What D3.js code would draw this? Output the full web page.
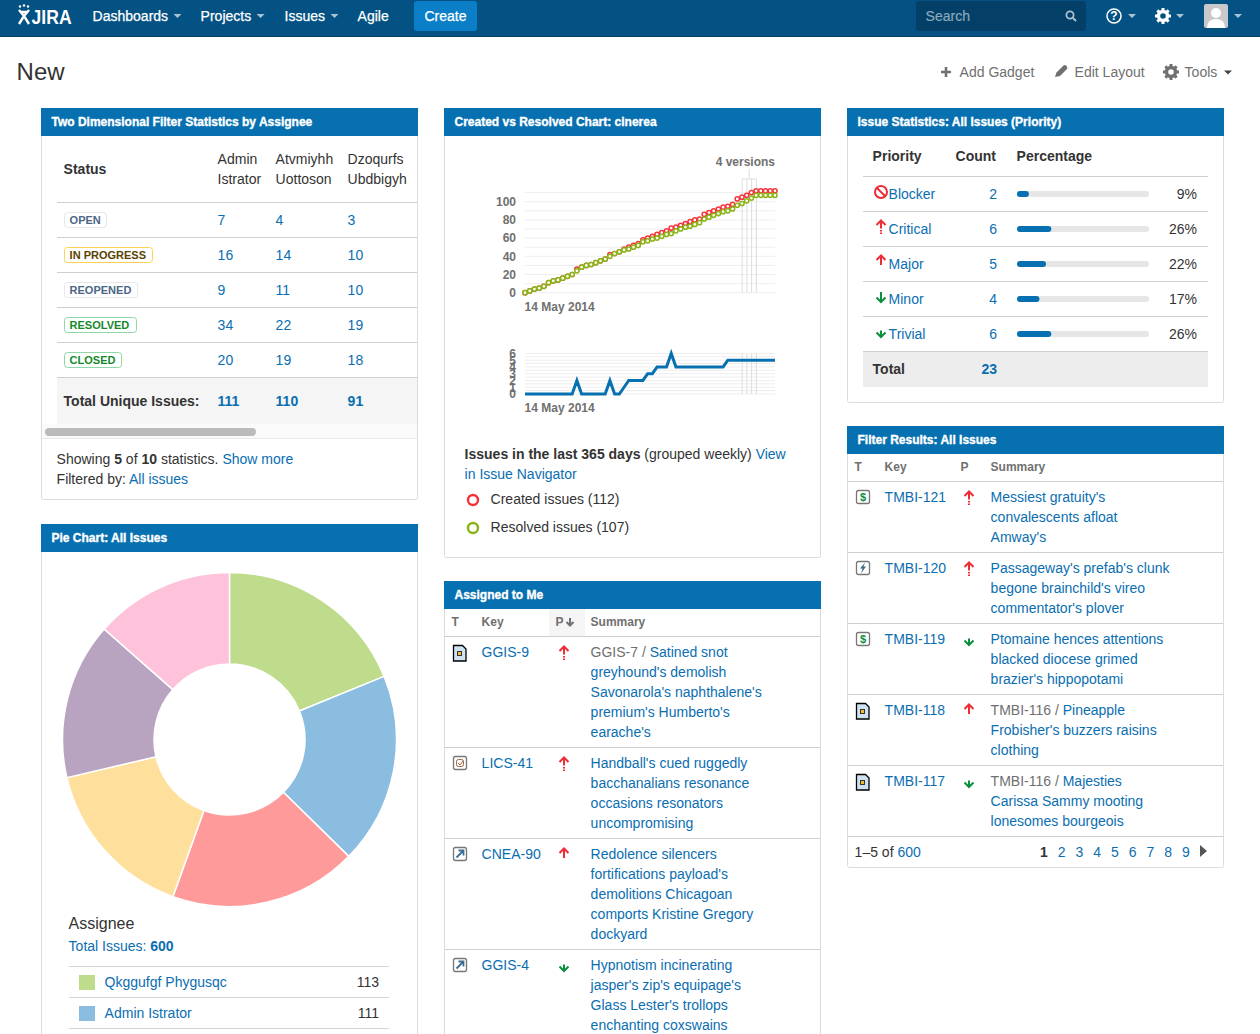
<!DOCTYPE html>
<html>
<head>
<meta charset="utf-8">
<script src="https://cdn.jsdelivr.net/npm/d3@7"></script>
<style>
  html, body { margin: 0; padding: 0; background: #fff; overflow: hidden; }
  svg { display: block; }
  text { font-family: "Liberation Sans", Arial, sans-serif; font-size: 14px; fill: #333; }
</style>
</head>
<body>
<div id="page"></div>
<script>
// Chart values
const resolvedIssues = [0,2,4,5,7,11,13,14,16,18,20,24,28,30,31,33,35,37,40,43,45,47,48,50,52,56,57,59,60,62,64,65,68,70,72,73,75,77,81,83,85,87,89,90,92,96,98,101,104,107,107,107,107,107];
const createdIssues  = [0,2,4,5,7,11,13,14,16,18,20,26,28,30,31,33,35,37,42,43,45,48,50,52,54,58,60,62,64,66,68,71,72,74,76,78,80,81,86,88,90,92,94,95,97,103,105,107,110,112,112,112,112,112];
const unresolvedTrend = [0,0,0,0,0,0,0,0,0,0,0,2,0,0,0,0,0,0,2,0,0,1,2,2,2,2,3,3,4,4,4,6,4,4,4,4,4,4,4,4,4,4,4,5,5,5,5,5,5,5,5,5,5,5];
const versionIndexes = [46, 47, 48, 49];
const trendTicks = [0, 20, 40, 60, 80, 100];
const diffTicks = [0, 1, 2, 3, 4, 5, 6];

const statuses = ["OPEN", "IN PROGRESS", "REOPENED", "RESOLVED", "CLOSED"];
const statusWidths = [42, 88, 73, 72, 57];
const statusStyles = ["grey", "yellow", "grey", "green", "green"];
const assigneeNames = [["Admin", "Istrator"], ["Atvmiyhh", "Uottoson"], ["Dzoqurfs", "Ubdbigyh"]];
const adminCounts = [7, 16, 9, 34, 20];
const atvmiyhhCounts = [4, 14, 11, 22, 19];
const dzoqurfsCounts = [3, 10, 10, 19, 18];
const uniqueTotals = [111, 110, 91];

const pieNames = ["Qkggufgf Phygusqc", "Admin Istrator", "Third", "Fourth", "Fifth", "Sixth"];
const pieValues = [113, 111, 109, 95, 91, 81];
const pieColors = ["#bedc8b", "#8bbde0", "#ff9a9a", "#ffdf9c", "#b8a4c1", "#ffc2db"];

const priorities = ["Blocker", "Critical", "Major", "Minor", "Trivial"];
const priorityCounts = [2, 6, 5, 4, 6];
const priorityPercents = [9, 26, 22, 17, 26];

const assignedIssues = [
  { key: "GGIS-9", type: "doc", pri: "Critical", parent: "GGIS-7", lines: ["Satined snot", "greyhound's demolish", "Savonarola's naphthalene's", "premium's Humberto's", "earache's"] },
  { key: "LICS-41", type: "check", pri: "Critical", lines: ["Handball's cued ruggedly", "bacchanalians resonance", "occasions resonators", "uncompromising"] },
  { key: "CNEA-90", type: "link", pri: "Major", lines: ["Redolence silencers", "fortifications payload's", "demolitions Chicagoan", "comports Kristine Gregory", "dockyard"] },
  { key: "GGIS-4", type: "link", pri: "Trivial", lines: ["Hypnotism incinerating", "jasper's zip's equipage's", "Glass Lester's trollops", "enchanting coxswains"] }
];
const filterIssues = [
  { key: "TMBI-121", type: "dollar", pri: "Critical", lines: ["Messiest gratuity's", "convalescents afloat", "Amway's"] },
  { key: "TMBI-120", type: "bolt", pri: "Critical", lines: ["Passageway's prefab's clunk", "begone brainchild's vireo", "commentator's plover"] },
  { key: "TMBI-119", type: "dollar", pri: "Trivial", lines: ["Ptomaine hences attentions", "blacked diocese grimed", "brazier's hippopotami"] },
  { key: "TMBI-118", type: "doc", pri: "Major", parent: "TMBI-116", lines: ["Pineapple", "Frobisher's buzzers raisins", "clothing"] },
  { key: "TMBI-117", type: "doc", pri: "Trivial", parent: "TMBI-116", lines: ["Majesties", "Carissa Sammy mooting", "lonesomes bourgeois"] }
];
const pageNumbers = [1, 2, 3, 4, 5, 6, 7, 8, 9];

const navItems = [["Dashboards", 93, true], ["Projects", 201, true], ["Issues", 285, true], ["Agile", 358, false]];
const panels = [
  ["Two Dimensional Filter Statistics by Assignee", 41, 108, 377, 392],
  ["Created vs Resolved Chart: cinerea", 444, 108, 377, 450],
  ["Issue Statistics: All Issues (Priority)", 847, 108, 377, 295],
  ["Pie Chart: All Issues", 41, 524, 377, 540],
  ["Assigned to Me", 444, 581, 377, 480],
  ["Filter Results: All Issues", 847, 426, 377, 442]
];

const BLUE = "#0670b0", LINK = "#0a6eb1", RULE = "#cfcfcf", GREY = "#707070";

const svg = d3.select("#page").append("svg").attr("width", 1260).attr("height", 1034);

const label = (g, x, y, str, opts = {}) => g.append("text")
  .attr("x", opts.anchor ? x : x - 0.4).attr("y", y).attr("dy", "0.35em")
  .attr("text-anchor", opts.anchor || "start")
  .style("font-size", (opts.size || 14) + "px")
  .style("font-weight", opts.bold ? "bold" : "normal")
  .style("fill", opts.color || "#333")
  .text(str);

const rule = (g, x1, x2, y, color = RULE) => g.append("line")
  .attr("x1", x1).attr("x2", x2).attr("y1", y + 0.5).attr("y2", y + 0.5)
  .attr("stroke", color);

const caret = (g, x, y, color) => g.append("path")
  .attr("d", `M${x},${y} l8,0 l-4,4 z`).attr("fill", color);

const gear = (g, cx, cy, color) => {
  g.append("circle").attr("cx", cx).attr("cy", cy).attr("r", 4.5)
    .attr("fill", "none").attr("stroke", color).attr("stroke-width", 3.4);
  g.selectAll(null).data(d3.range(8)).join("rect")
    .attr("x", cx - 1.5).attr("y", cy - 8).attr("width", 3).attr("height", 3)
    .attr("fill", color)
    .attr("transform", d => `rotate(${d * 45} ${cx} ${cy})`);
};

// Top bar
const drawHeader = () => {
  const g = svg.append("g");
  g.append("rect").attr("width", 1260).attr("height", 37).attr("fill", "#035283");
  rule(g, 0, 1260, 36, "#033d61");
  // logo
  g.append("path").attr("d", "M19,10 L24,16 L19,24 M29,10 L24,16 L29,24 M21,12 L27,12")
    .attr("fill", "none").attr("stroke", "#fff").attr("stroke-width", 2.4);
  g.selectAll(null).data([20, 24, 28]).join("circle")
    .attr("cx", d => d).attr("cy", d => d === 24 ? 5.5 : 6.5).attr("r", 1.2).attr("fill", "#fff");
  label(g, 32, 16.5, "JIRA", { size: 20, bold: true, color: "#fff" })
    .attr("textLength", 40).attr("lengthAdjust", "spacingAndGlyphs");

  navItems.forEach(([name, x, hasCaret]) => {
    const t = label(g, x, 16, name, { color: "#fff" }).style("stroke", "#fff").style("stroke-width", 0.25);
    if (hasCaret) caret(g, x + t.node().getComputedTextLength() + 5, 14, "#a9c3d4");
  });

  g.append("rect").attr("x", 414).attr("y", 1).attr("width", 63).attr("height", 30).attr("rx", 3).attr("fill", "#0a7fc7");
  label(g, 445.5, 16, "Create", { anchor: "middle", color: "#fff" }).style("stroke", "#fff").style("stroke-width", 0.25);

  g.append("rect").attr("x", 916).attr("y", 1).attr("width", 170).attr("height", 30).attr("rx", 3).attr("fill", "#033f66");
  label(g, 926, 16, "Search", { color: "#88aabf" }).style("stroke", "#88aabf").style("stroke-width", 0.2);
  g.append("circle").attr("cx", 1070).attr("cy", 15).attr("r", 3.6).attr("fill", "none").attr("stroke", "#a9c3d4").attr("stroke-width", 1.8);
  g.append("line").attr("x1", 1073).attr("y1", 18).attr("x2", 1076).attr("y2", 21).attr("stroke", "#a9c3d4").attr("stroke-width", 2);

  g.append("circle").attr("cx", 1114).attr("cy", 16).attr("r", 7).attr("fill", "none").attr("stroke", "#fff").attr("stroke-width", 1.5);
  label(g, 1114, 16, "?", { anchor: "middle", size: 12, bold: true, color: "#fff" });
  caret(g, 1128, 14, "#a9c3d4");
  gear(g, 1163, 16, "#fff");
  caret(g, 1176, 14, "#a9c3d4");
  g.append("rect").attr("x", 1204).attr("y", 4).attr("width", 24).attr("height", 24).attr("rx", 2).attr("fill", "#c9c9c9");
  g.append("circle").attr("cx", 1216).attr("cy", 13).attr("r", 5).attr("fill", "#fff");
  g.append("path").attr("d", "M1207,28 Q1207,19 1216,19 Q1225,19 1225,28 Z").attr("fill", "#fff");
  caret(g, 1234, 14, "#a9c3d4");

  label(svg, 17, 72, "New", { size: 24 });

  const tools = svg.append("g");
  tools.append("path").attr("d", "M941,72 h10 M946,67 v10").attr("stroke", "#707070").attr("stroke-width", 2.6);
  label(tools, 960, 72, "Add Gadget", { color: GREY });
  tools.append("path").attr("d", "M1055,77 l1.5,-4.5 l7,-7 q1.5,-1 3,0.5 q1.5,1.5 0.5,3 l-7,7 z").attr("fill", "#707070");
  label(tools, 1075, 72, "Edit Layout", { color: GREY });
  gear(tools, 1171, 72, "#707070");
  label(tools, 1185, 72, "Tools", { color: GREY });
  caret(tools, 1224, 70.5, "#444");
};

const drawPanels = () => {
  const g = svg.selectAll("g.panel").data(panels).join("g").attr("class", "panel");
  g.append("rect").attr("x", d => d[1] + 0.5).attr("y", d => d[2] + 0.5)
    .attr("width", d => d[3] - 1).attr("height", d => d[4] - 1)
    .attr("rx", 2).attr("fill", "#fff").attr("stroke", "#dcdcdc");
  g.append("rect").attr("x", d => d[1]).attr("y", d => d[2])
    .attr("width", d => d[3]).attr("height", 28).attr("fill", BLUE);
  g.append("text").attr("x", d => d[1] + 10.5).attr("y", d => d[2] + 14).attr("dy", "0.35em")
    .style("font-size", "12px").style("font-weight", "bold").style("fill", "#fff")
    .style("stroke", "#fff").style("stroke-width", 0.35)
    .text(d => d[0]);
};

// Two dimensional filter table
const drawFilterStats = () => {
  const g = svg.append("g");
  const y = d3.scalePoint().domain(statuses).range([220, 360]);
  const cols = [218, 276, 348];
  const series = [adminCounts, atvmiyhhCounts, dzoqurfsCounts];
  const loz = {
    grey: ["#e4e8ed", "#4a6785"],
    yellow: ["#ffd351", "#594300"],
    green: ["#8ed8a8", "#14892c"]
  };

  label(g, 64, 169, "Status", { bold: true });
  assigneeNames.forEach((lines, i) => {
    label(g, cols[i], 159, lines[0]);
    label(g, cols[i], 179, lines[1]);
  });
  rule(g, 57, 417, 202);

  statuses.forEach((s, i) => {
    const cy = y(s);
    rule(g, 57, 417, cy + 17);
    const [border, color] = loz[statusStyles[i]];
    g.append("rect").attr("x", 64.5).attr("y", cy - 7.5).attr("width", statusWidths[i]).attr("height", 15)
      .attr("rx", 3).attr("fill", "#fff").attr("stroke", border);
    label(g, 70, cy, s, { size: 11, bold: true, color });
    series.forEach((vals, c) => label(g, cols[c], cy, vals[i], { color: LINK }));
  });

  g.append("rect").attr("x", 57).attr("y", 378).attr("width", 360).attr("height", 46).attr("fill", "#f5f5f5");
  label(g, 64, 401, "Total Unique Issues:", { bold: true });
  uniqueTotals.forEach((v, c) => label(g, cols[c], 401, v, { bold: true, color: LINK }));

  g.append("rect").attr("x", 42).attr("y", 424).attr("width", 375).attr("height", 14).attr("fill", "#fafafa");
  rule(g, 42, 417, 438, "#eaeaea");
  g.append("rect").attr("x", 45).attr("y", 428).attr("width", 211).attr("height", 8).attr("rx", 4).attr("fill", "#bbb");

  const line1 = g.append("text").attr("x", 56.6).attr("y", 459).attr("dy", "0.35em");
  line1.append("tspan").style("fill", "#333").text("Showing ");
  line1.append("tspan").style("fill", "#333").style("font-weight", "bold").text("5");
  line1.append("tspan").style("fill", "#333").text(" of ");
  line1.append("tspan").style("fill", "#333").style("font-weight", "bold").text("10");
  line1.append("tspan").style("fill", "#333").text(" statistics. ");
  line1.append("tspan").style("fill", LINK).text("Show more");
  const line2 = g.append("text").attr("x", 56.6).attr("y", 479).attr("dy", "0.35em");
  line2.append("tspan").style("fill", "#333").text("Filtered by: ");
  line2.append("tspan").style("fill", LINK).text("All issues");
};

// Created vs resolved charts
const drawCreatedResolved = () => {
  const g = svg.append("g");
  const x = d3.scaleLinear().domain([0, resolvedIssues.length - 1]).range([525, 775]);
  const y = d3.scaleLinear().domain([0, 100]).range([292.7, 201.7]);
  const y2 = d3.scaleLinear().domain([0, 6]).range([394, 353.4]);

  const grid = (scale, values) => g.append("g").selectAll("line").data(values).join("line")
    .attr("x1", 525).attr("x2", 775)
    .attr("y1", d => scale(d)).attr("y2", d => scale(d))
    .attr("stroke", "#eeeeee");
  grid(y, d3.range(0, 111, 10));
  grid(y2, d3.range(0, 6.1, 0.5));

  const axis = (scale, ticks) => {
    const a = g.append("g").attr("transform", "translate(516,0)")
      .call(d3.axisLeft(scale).tickValues(ticks).tickSize(0).tickPadding(0).tickFormat(d3.format("d")));
    a.select(".domain").remove();
    a.selectAll("text").style("font-size", "12px").style("font-weight", "bold").style("fill", GREY);
  };
  axis(y, trendTicks);
  axis(y2, diffTicks);

  label(g, 525, 307, "14 May 2014", { size: 12, bold: true, color: GREY });
  label(g, 525, 408, "14 May 2014", { size: 12, bold: true, color: GREY });

  // version markers
  const vx = versionIndexes.map(i => x(i) + 0.2);
  g.append("g").selectAll("line").data(vx).join("line")
    .attr("x1", d => d).attr("x2", d => d).attr("y1", 179).attr("y2", 292.7)
    .attr("stroke", "#dddddd");
  g.append("g").selectAll("line").data(vx).join("line")
    .attr("x1", d => d).attr("x2", d => d).attr("y1", 353.4).attr("y2", 394)
    .attr("stroke", "#dddddd");
  const midX = d3.mean(vx);
  g.append("path").attr("d", `M${vx[0]},179 H${vx[3]} M${midX},169 V179`).attr("fill", "none").attr("stroke", "#dddddd");
  label(g, 775, 162, "4 versions", { anchor: "end", size: 12, bold: true, color: GREY });

  const dots = (vals, color) => {
    g.append("g").selectAll("circle").data(vals).join("circle")
      .attr("cx", (d, i) => x(i)).attr("cy", d => y(d)).attr("r", 2.1)
      .attr("fill", "#fff").attr("stroke", color).attr("stroke-width", 1.5);
  };
  dots(createdIssues, "#f6323a");
  dots(resolvedIssues, "#8ab416");

  g.append("path").datum(unresolvedTrend)
    .attr("d", d3.line().x((d, i) => x(i)).y(d => y2(d)))
    .attr("fill", "none").attr("stroke", BLUE).attr("stroke-width", 3);

  const head = g.append("text").attr("x", 464.6).attr("y", 454).attr("dy", "0.35em");
  head.append("tspan").style("fill", "#333").style("font-weight", "bold").text("Issues in the last 365 days");
  head.append("tspan").style("fill", "#333").text(" (grouped weekly) ");
  head.append("tspan").style("fill", LINK).text("View");
  label(g, 465, 474, "in Issue Navigator", { color: LINK });
  g.append("circle").attr("cx", 473).attr("cy", 500).attr("r", 5).attr("fill", "#fff").attr("stroke", "#f6323a").attr("stroke-width", 2.4);
  label(g, 491, 499, `Created issues (${d3.max(createdIssues)})`);
  g.append("circle").attr("cx", 473).attr("cy", 528).attr("r", 5).attr("fill", "#fff").attr("stroke", "#8ab416").attr("stroke-width", 2.4);
  label(g, 491, 527, `Resolved issues (${d3.max(resolvedIssues)})`);
};

const priorityIcon = (g, name, x, c) => {
  const red = "#ef2b34", green = "#0b8f3c";
  const stroke = (d, color) => g.append("path").attr("d", d)
    .attr("fill", "none").attr("stroke", color).attr("stroke-width", 2);
  if (name === "Blocker") {
    g.append("circle").attr("cx", x).attr("cy", c).attr("r", 6).attr("fill", "none").attr("stroke", red).attr("stroke-width", 2);
    stroke(`M${x - 4},${c - 4} L${x + 4},${c + 4}`, red);
  } else if (name === "Critical") {
    stroke(`M${x - 4.5},${c - 2.5} L${x},${c - 7} L${x + 4.5},${c - 2.5} M${x},${c - 7} V${c + 1}`, red);
    stroke(`M${x},${c + 2.5} V${c + 4} M${x},${c + 5} V${c + 6.5}`, red);
  } else if (name === "Major") {
    stroke(`M${x - 4.5},${c - 2.5} L${x},${c - 7} L${x + 4.5},${c - 2.5} M${x},${c - 7} V${c + 2.5}`, red);
  } else if (name === "Minor") {
    stroke(`M${x - 4.5},${c} L${x},${c + 4.5} L${x + 4.5},${c} M${x},${c - 5.5} V${c + 4.5}`, green);
  } else {
    stroke(`M${x - 4.5},${c} L${x},${c + 4.5} L${x + 4.5},${c} M${x},${c - 2} V${c + 4.5}`, green);
  }
};

// Priority stats table
const drawPriorityStats = () => {
  const g = svg.append("g");
  const y = d3.scalePoint().domain(priorities).range([194, 334]);
  const bar = d3.scaleLinear().domain([0, 100]).range([0, 132]);

  label(g, 873, 156, "Priority", { bold: true });
  label(g, 956, 156, "Count", { bold: true });
  label(g, 1017, 156, "Percentage", { bold: true });
  rule(g, 863, 1208, 176);

  priorities.forEach((p, i) => {
    const cy = y(p);
    rule(g, 863, 1208, cy + 17);
    priorityIcon(g, p, 881, p === "Blocker" ? cy - 2 : cy - 1.5);
    label(g, 889, cy, p, { color: LINK });
    label(g, 997, cy, priorityCounts[i], { anchor: "end", color: LINK });
    g.append("rect").attr("x", 1017).attr("y", cy - 3).attr("width", bar(100)).attr("height", 6).attr("rx", 3).attr("fill", "#e6e6e6");
    g.append("rect").attr("x", 1017).attr("y", cy - 3).attr("width", bar(priorityPercents[i])).attr("height", 6).attr("rx", 3).attr("fill", BLUE);
    label(g, 1197, cy, priorityPercents[i] + "%", { anchor: "end" });
  });

  g.append("rect").attr("x", 863).attr("y", 352).attr("width", 345).attr("height", 35).attr("fill", "#ededed");
  label(g, 873, 369, "Total", { bold: true });
  label(g, 997, 369, 23, { anchor: "end", bold: true, color: LINK });
};

// Donut and its legend
const drawPie = () => {
  const g = svg.append("g").attr("transform", "translate(229.5,739.5)");
  const pie = d3.pie().sort(null);
  const arc = d3.arc().innerRadius(75.5).outerRadius(167);
  g.selectAll("path").data(pie(pieValues)).join("path")
    .attr("d", arc)
    .attr("fill", (d, i) => pieColors[i])
    .attr("stroke", "#fff").attr("stroke-width", 1.5);

  const l = svg.append("g");
  label(l, 69, 923, "Assignee", { size: 16 });
  const total = l.append("text").attr("x", 68.6).attr("y", 946).attr("dy", "0.35em");
  total.append("tspan").style("fill", LINK).text("Total Issues: ");
  total.append("tspan").style("fill", LINK).style("font-weight", "bold").text(d3.sum(pieValues));
  rule(l, 69, 389, 966, "#d5d5d5");
  rule(l, 69, 389, 997, "#d5d5d5");
  rule(l, 69, 389, 1028, "#d5d5d5");
  pieNames.slice(0, 2).forEach((n, i) => {
    const cy = 982 + i * 31;
    l.append("rect").attr("x", 79).attr("y", cy - 7).attr("width", 16).attr("height", 15).attr("fill", pieColors[i]);
    label(l, 105, cy, n, { color: LINK });
    label(l, 379, cy, pieValues[i], { anchor: "end" });
  });
};

const typeIcon = (g, type, x, y) => {
  const box = color => g.append("rect").attr("x", x + 0.5).attr("y", y + 0.5).attr("width", 13).attr("height", 13)
    .attr("rx", 2).attr("fill", "#fff").attr("stroke", color).attr("stroke-width", 1.3);
  if (type === "doc") {
    g.append("path").attr("d", `M${x + 0.5},${y + 0.5} h9 l3.5,3.5 v12 h-12.5 z`).attr("fill", "#cfe2f3").attr("stroke", "#000").attr("stroke-width", 1.3);
    g.append("rect").attr("x", x + 4.5).attr("y", y + 6.5).attr("width", 4).attr("height", 4).attr("fill", "#f3bd2f").attr("stroke", "#333");
  } else if (type === "check") {
    box("#777");
    g.append("rect").attr("x", x + 3.5).attr("y", y + 3.5).attr("width", 7).attr("height", 7).attr("rx", 2).attr("fill", "none").attr("stroke", "#a0623c");
    g.append("path").attr("d", `M${x + 5},${y + 7} l2,2 l3,-4`).attr("fill", "none").attr("stroke", "#a0623c");
  } else if (type === "link") {
    box("#777");
    g.append("path").attr("d", `M${x + 3.5},${y + 10.5} L${x + 10},${y + 4} M${x + 5.5},${y + 3.5} H${x + 10.5} V${y + 8.5}`)
      .attr("fill", "none").attr("stroke", "#3b6e91").attr("stroke-width", 1.8);
  } else if (type === "dollar") {
    box("#777");
    label(g, x + 7, y + 7, "$", { anchor: "middle", size: 11, bold: true, color: "#0b8f3c" });
  } else if (type === "bolt") {
    box("#777");
    g.append("path").attr("d", `M${x + 9},${y + 1.5} L${x + 4},${y + 7.5} H${x + 6.5} L${x + 5},${y + 12.5} L${x + 10},${y + 5.5} H${x + 7.5} Z`).attr("fill", "#3b6e91");
  }
};

// Issue tables share one drawer
const drawIssueTable = (issues, cfg) => {
  const g = svg.append("g");
  if (cfg.sorted) {
    g.append("rect").attr("x", 549).attr("y", cfg.headY - 13).attr("width", 36).attr("height", 27).attr("fill", "#f5f5f5");
    g.append("path").attr("d", `M${cfg.px + 14},${cfg.headY - 4} v7 M${cfg.px + 10.5},${cfg.headY} l3.5,3.5 l3.5,-3.5`)
      .attr("fill", "none").attr("stroke", "#707070").attr("stroke-width", 2);
  }
  [["T", cfg.tx - 1], ["Key", cfg.keyX], ["P", cfg.px], ["Summary", cfg.sumX]].forEach(([s, x]) =>
    label(g, x, cfg.headY, s, { size: 12, bold: true, color: GREY }));
  rule(g, cfg.x1, cfg.x2, cfg.headY + 14);

  let top = cfg.headY + 15;
  issues.forEach(d => {
    const first = top + 15.5;
    typeIcon(g, d.type, cfg.tx, first - 7.5);
    label(g, cfg.keyX, first, d.key, { color: LINK });
    priorityIcon(g, d.pri, cfg.priX, first + 1);
    d.lines.forEach((s, i) => {
      if (i === 0 && d.parent) {
        const t = g.append("text").attr("x", cfg.sumX - 0.4).attr("y", first).attr("dy", "0.35em");
        t.append("tspan").style("fill", GREY).text(d.parent + " / ");
        t.append("tspan").style("fill", LINK).text(s);
      } else {
        label(g, cfg.sumX, first + i * 20, s, { color: LINK });
      }
    });
    top += d.lines.length * 20 + 11;
    rule(g, cfg.x1, cfg.x2, top - 1);
  });
};

const drawPager = () => {
  const g = svg.append("g");
  const t = g.append("text").attr("x", 854.6).attr("y", 852).attr("dy", "0.35em");
  t.append("tspan").style("fill", "#333").text("1–5");
  t.append("tspan").style("fill", "#333").text(" of ");
  t.append("tspan").style("fill", LINK).text("600");
  const x = d3.scaleLinear().domain([1, 9]).range([1040, 1182]);
  g.selectAll("text.page").data(pageNumbers).join("text").attr("class", "page")
    .attr("x", d => x(d)).attr("y", 852).attr("dy", "0.35em")
    .style("font-weight", d => d === 1 ? "bold" : "normal")
    .style("fill", d => d === 1 ? "#333" : LINK)
    .text(d => d);
  g.append("path").attr("d", "M1200,845 l7,6 l-7,6 z").attr("fill", "#555");
};

drawHeader();
drawPanels();
drawFilterStats();
drawCreatedResolved();
drawPriorityStats();
drawPie();
drawIssueTable(assignedIssues, { x1: 445, x2: 820, headY: 622, tx: 453, keyX: 482, px: 556, priX: 564, sumX: 591, sorted: true });
drawIssueTable(filterIssues, { x1: 848, x2: 1223, headY: 467, tx: 856, keyX: 885, px: 961, priX: 969, sumX: 991 });
drawPager();
</script>
</body>
</html>
